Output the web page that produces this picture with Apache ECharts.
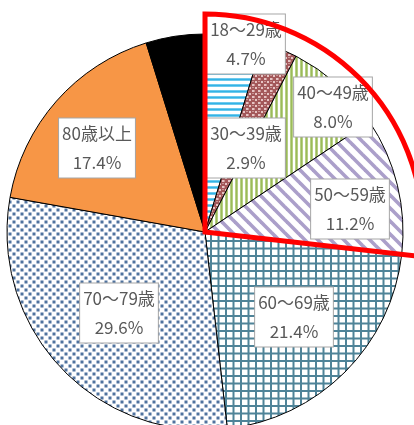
<!DOCTYPE html>
<html>
<head>
<meta charset="utf-8">
<script src="https://cdn.jsdelivr.net/npm/echarts@6/dist/echarts.min.js"></script>
<style>
html,body{margin:0;padding:0;background:#fff;}
#chart{width:414px;height:425px;}
</style>
</head>
<body>
<div id="chart"></div>
<script>
// ---- data ----
const categories = ['18～29歳', '30～39歳', '40～49歳', '50～59歳', '60～69歳', '70～79歳', '80歳以上', ''];
const shares = [4.7, 2.9, 8.0, 11.2, 21.4, 29.6, 17.4, 4.8];
const highlighted = ['18～29歳', '30～39歳', '40～49歳', '50～59歳'];

// ---- layout / style ----
const CX = 205, CY = 232, R = 198;
// label box centre offsets from pie centre (px)
const labelOffsets = [[41, -188], [41, -84], [128, -125], [145, -23], [89, 85], [-86, 81], [-108, -84], [0, 0]];

function tile(w, h, draw) {
  const c = document.createElement('canvas');
  c.width = w; c.height = h;
  const g = c.getContext('2d');
  g.fillStyle = '#ffffff';
  g.fillRect(0, 0, w, h);
  draw(g);
  return { image: c, repeat: 'repeat' };
}
const patterns = [
  tile(6, 6, g => { g.fillStyle = '#a9dff4'; g.fillRect(0, 0, 6, 3); g.fillStyle = '#33b3e6'; g.fillRect(0, 0.5, 6, 2); }),
  tile(6, 6, g => { g.fillStyle = '#a3585a'; g.fillRect(0, 0, 6, 6); g.fillStyle = '#e6c4c4'; g.fillRect(0, 0, 2, 2); g.fillRect(3, 3, 2, 2); g.fillStyle = '#c99494'; g.fillRect(2, 0, 1, 2); g.fillRect(0, 3, 2, 1); }),
  tile(5, 5, g => { g.fillStyle = '#d3e2b5'; g.fillRect(0, 0, 3, 5); g.fillStyle = '#9bbb59'; g.fillRect(0.5, 0, 2, 5); }),
  tile(13, 13, g => {
    g.strokeStyle = '#ab9fca'; g.lineWidth = 3.6;
    for (let k = -2; k <= 2; k++) { g.beginPath(); g.moveTo(k * 13 - 3, -3); g.lineTo(k * 13 + 16, 16); g.stroke(); }
  }),
  tile(15, 15, g => { g.fillStyle = '#4f8398'; g.fillRect(0, 0, 2, 15); g.fillRect(7.5, 0, 2, 15); g.fillRect(0, 0, 15, 2); g.fillRect(0, 7.5, 15, 2); }),
  tile(8, 8, g => { g.fillStyle = '#4f729e'; g.fillRect(0.5, 0.5, 3, 3); g.fillRect(4.5, 4.5, 3, 3); }),
  '#f79646',
  '#000000'
];

const chart = echarts.init(document.getElementById('chart'), null, { renderer: 'canvas' });

const pieData = categories.map((name, i) => ({
  name: name,
  value: shares[i],
  itemStyle: { color: patterns[i] },
  label: { show: name !== '' }
}));

const hiSum = shares.filter((v, i) => highlighted.includes(categories[i])).reduce((a, b) => a + b, 0);
const total = shares.reduce((a, b) => a + b, 0);

chart.setOption({
  animation: false,
  series: [
    {
      type: 'pie',
      center: [CX, CY],
      radius: [0, R],
      startAngle: 90,
      clockwise: true,
      avoidLabelOverlap: false,
      silent: true,
      z: 2,
      itemStyle: { borderColor: '#000', borderWidth: 1 },
      label: {
        position: 'inside',
        formatter: p => p.name + '\n' + p.value.toFixed(1) + '%',
        fontFamily: '"Noto Sans CJK JP", sans-serif',
        fontSize: 17,
        lineHeight: 29,
        color: '#595959',
        backgroundColor: '#ffffff',
        borderColor: '#a6a6a6',
        borderWidth: 1,
        padding: [1, 3, 0, 3],
        align: 'center'
      },
      labelLine: { show: false },
      labelLayout: function (params) {
        const o = labelOffsets[params.dataIndex];
        return { x: CX + o[0], y: CY + o[1], align: 'center', verticalAlign: 'middle' };
      },
      emphasis: { disabled: true },
      data: pieData
    },
    {
      type: 'pie',
      center: [CX, CY],
      radius: [0, 218],
      startAngle: 90,
      clockwise: true,
      silent: true,
      z: 5,
      label: { show: false },
      labelLine: { show: false },
      emphasis: { disabled: true },
      data: [
        { value: hiSum, itemStyle: { color: 'rgba(0,0,0,0)', borderColor: '#ff0000', borderWidth: 5, borderJoin: 'miter' } },
        { value: total - hiSum, itemStyle: { color: 'rgba(0,0,0,0)', borderWidth: 0 } }
      ]
    }
  ]
});
</script>
</body>
</html>
